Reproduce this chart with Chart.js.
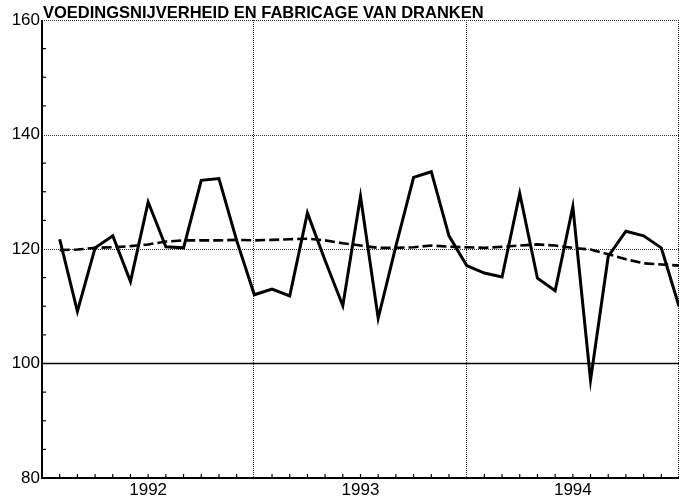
<!DOCTYPE html>
<html>
<head>
<meta charset="utf-8">
<script src="https://cdn.jsdelivr.net/npm/chart.js@4"></script>
<style>
  html, body { margin: 0; padding: 0; background: #fff; }
  #wrap { width: 685px; height: 500px; position: relative; }
</style>
</head>
<body>
<div id="wrap"><canvas id="chart"></canvas></div>
<script>
// monthly index, jan 1992 .. dec 1994 (month number 1..36)
const months = [1,2,3,4,5,6,7,8,9,10,11,12,13,14,15,16,17,18,19,20,21,22,23,24,25,26,27,28,29,30,31,32,33,34,35,36];
const original = [121.7,109.1,120.2,122.3,114.3,128.2,120.4,120.2,132.0,132.3,121.5,112.0,
                  113.0,111.8,126.3,118.0,110.1,129.2,107.9,120.5,132.5,133.5,122.3,117.1,
                  115.8,115.1,129.7,114.9,112.7,127.4,97.1,118.7,123.1,122.3,120.2,110.0];
const trend = [119.8,119.9,120.2,120.3,120.5,120.8,121.3,121.5,121.5,121.5,121.6,121.5,
               121.6,121.7,121.8,121.5,121.0,120.6,120.2,120.2,120.3,120.6,120.4,120.3,
               120.2,120.4,120.6,120.8,120.6,120.2,119.9,119.1,118.2,117.5,117.3,117.1];
const yearLabels = ['1992', '1993', '1994'];
const yearCenters = [6, 18, 30];
const yearBounds = [12, 24, 36];
const yTicks = [80, 100, 120, 140, 160];
const dottedLevels = [120, 140, 160];
const title = 'VOEDINGSNIJVERHEID EN FABRICAGE VAN DRANKEN';

const toPoints = (vals) => vals.map((v, i) => ({ x: months[i], y: v }));

// grid, axes, inner tick marks and title
const framePlugin = {
    id: 'frame',
    beforeDatasetsDraw(chart) {
        const { ctx, chartArea: a, scales: { x, y } } = chart;
        ctx.save();

        // dotted grid
        ctx.strokeStyle = '#333';
        ctx.lineWidth = 1;
        ctx.setLineDash([1, 1]);
        dottedLevels.forEach(v => {
            const py = Math.round(y.getPixelForValue(v)) + 0.5;
            ctx.beginPath();
            ctx.moveTo(a.left, py);
            ctx.lineTo(a.right, py);
            ctx.stroke();
        });
        yearBounds.forEach(v => {
            const px = Math.round(x.getPixelForValue(v)) - 0.5;
            ctx.beginPath();
            ctx.moveTo(px, a.top);
            ctx.lineTo(px, a.bottom);
            ctx.stroke();
        });
        ctx.setLineDash([]);

        // solid 100 line
        ctx.strokeStyle = '#000';
        ctx.lineWidth = 1.5;
        const p100 = y.getPixelForValue(100);
        ctx.beginPath();
        ctx.moveTo(a.left, p100);
        ctx.lineTo(a.right, p100);
        ctx.stroke();

        // axes
        ctx.lineWidth = 2;
        ctx.beginPath();
        ctx.moveTo(a.left, a.top);
        ctx.lineTo(a.left, a.bottom);
        ctx.lineTo(a.right, a.bottom);
        ctx.stroke();

        // inner ticks
        ctx.lineWidth = 1.2;
        for (let v = 85; v < 160; v += 5) {
            if (v % 20 === 0) continue;
            const py = y.getPixelForValue(v);
            ctx.beginPath();
            ctx.moveTo(a.left, py);
            ctx.lineTo(a.left + 4, py);
            ctx.stroke();
        }
        months.forEach(m => {
            if (yearBounds.includes(m)) return;
            const px = x.getPixelForValue(m);
            ctx.beginPath();
            ctx.moveTo(px, a.bottom);
            ctx.lineTo(px, a.bottom - 4);
            ctx.stroke();
        });

        // title
        ctx.fillStyle = '#000';
        ctx.font = 'bold 16.5px "Liberation Sans", Arial, sans-serif';
        ctx.textBaseline = 'alphabetic';
        ctx.textAlign = 'left';
        ctx.fillText(title, a.left + 1, 18);
        ctx.restore();
    }
};

new Chart(document.getElementById('chart'), {
    type: 'line',
    data: {
        datasets: [
            {
                label: 'origineel',
                data: toPoints(original),
                borderColor: '#000',
                borderWidth: 3,
                pointRadius: 0,
                tension: 0
            },
            {
                label: 'trend',
                data: toPoints(trend),
                borderColor: '#000',
                borderWidth: 2.6,
                borderDash: [10, 4],
                pointRadius: 0,
                tension: 0
            }
        ]
    },
    options: {
        responsive: true,
        maintainAspectRatio: false,
        animation: false,
        layout: { padding: { top: 20, right: 6, left: 0, bottom: 0 } },
        plugins: {
            legend: { display: false },
            tooltip: { enabled: false }
        },
        scales: {
            x: {
                type: 'linear',
                min: 0,
                max: 36,
                grid: { display: false, drawTicks: false },
                border: { display: false },
                afterBuildTicks: (scale) => { scale.ticks = yearCenters.map(v => ({ value: v })); },
                afterFit: (scale) => { scale.height = 22; },
                ticks: {
                    padding: 2,
                    color: '#000',
                    maxRotation: 0,
                    autoSkip: false,
                    font: { family: "'Liberation Sans', Arial, sans-serif", size: 17 },
                    callback: (value) => yearLabels[yearCenters.indexOf(value)]
                }
            },
            y: {
                min: 80,
                max: 160,
                grid: { display: false, drawTicks: false },
                border: { display: false },
                afterBuildTicks: (scale) => { scale.ticks = yTicks.map(v => ({ value: v })); },
                afterFit: (scale) => { scale.width = 42; },
                ticks: {
                    padding: 2,
                    color: '#000',
                    font: { family: "'Liberation Sans', Arial, sans-serif", size: 17 }
                }
            }
        }
    },
    plugins: [framePlugin]
});
</script>
</body>
</html>
